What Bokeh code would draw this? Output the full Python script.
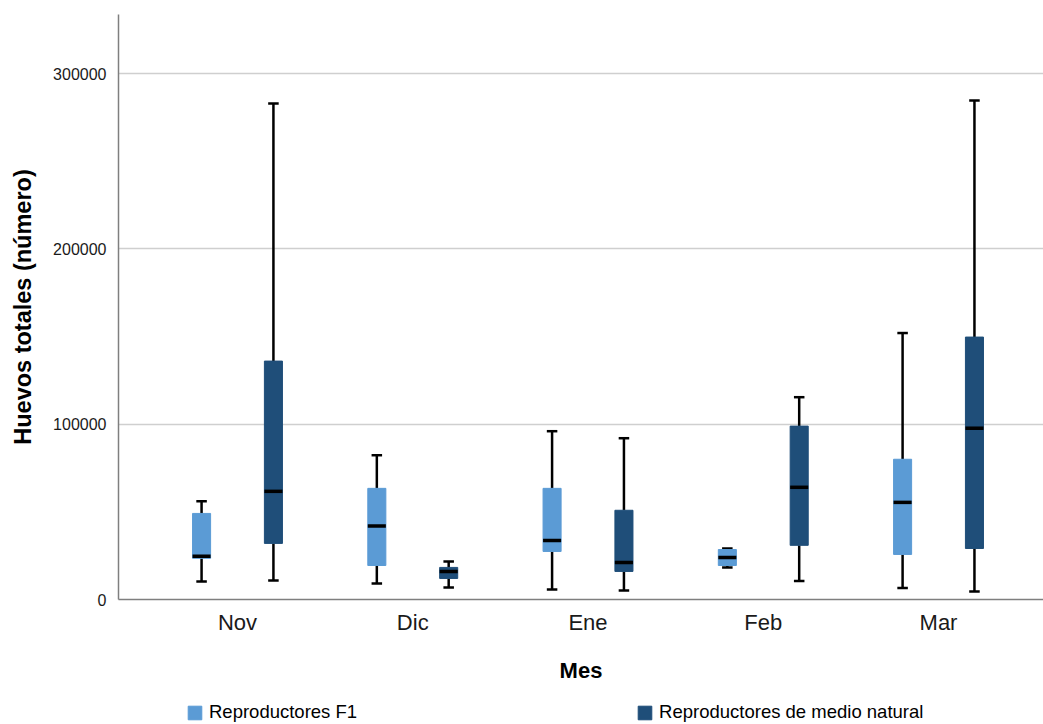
from bokeh.plotting import figure
from bokeh.layouts import column
from bokeh.models import ColumnDataSource, FixedTicker, NumeralTickFormatter, Legend, LegendItem, Range1d
from bokeh.transform import dodge
from bokeh.embed import file_html
from bokeh.resources import INLINE

months = ["Nov", "Dic", "Ene", "Feb", "Mar"]
series_names = ["Reproductores F1", "Reproductores de medio natural"]

f1_min = [10300, 9100, 5700, 18300, 6500]
f1_q1 = [23500, 19400, 27400, 19400, 25700]
f1_med = [24600, 41900, 33700, 24000, 55400]
f1_q3 = [49100, 63400, 63400, 28500, 80000]
f1_max = [56000, 82300, 96000, 29100, 152000]

nat_min = [10900, 6900, 5100, 10500, 4600]
nat_q1 = [32000, 12000, 16000, 30900, 29100]
nat_med = [61700, 16000, 21100, 64000, 97700]
nat_q3 = [136000, 18300, 50900, 98900, 149700]
nat_max = [282900, 21700, 92000, 115400, 284600]

y_ticks = [0, 100000, 200000, 300000]

colors = ["#5B9BD5", "#1F4E79"]
FONT = "Liberation Sans"

p = figure(width=1043, height=690, output_backend="svg", toolbar_location=None,
           x_range=Range1d(-0.679, 4.599), y_range=Range1d(0, 333700),
           min_border_left=118, min_border_top=14, min_border_right=0, min_border_bottom=91)
p.outline_line_color = None
p.background_fill_color = "white"
p.xgrid.grid_line_color = None
p.ygrid.grid_line_color = "#cfcfcf"
p.ygrid.grid_line_width = 1.5

xs = list(range(len(months)))
box_w = 0.103
cap_hw = 0.03
offsets = [-0.205, 0.205]
data = [(f1_min, f1_q1, f1_med, f1_q3, f1_max), (nat_min, nat_q1, nat_med, nat_q3, nat_max)]

for (mn, q1, md, q3, mx), off, col in zip(data, offsets, colors):
    src = ColumnDataSource(dict(x=xs, mn=mn, q1=q1, md=md, q3=q3, mx=mx))
    p.segment(x0=dodge("x", off), x1=dodge("x", off), y0="q3", y1="mx", source=src,
              line_color="black", line_width=2.5)
    p.segment(x0=dodge("x", off), x1=dodge("x", off), y0="mn", y1="q1", source=src,
              line_color="black", line_width=2.5)
    p.segment(x0=dodge("x", off - cap_hw), x1=dodge("x", off + cap_hw), y0="mx", y1="mx",
              source=src, line_color="black", line_width=2.5)
    p.segment(x0=dodge("x", off - cap_hw), x1=dodge("x", off + cap_hw), y0="mn", y1="mn",
              source=src, line_color="black", line_width=2.5)
    p.vbar(x=dodge("x", off), width=box_w, bottom="q1", top="q3", source=src,
           fill_color=col, line_color=col, line_width=1)
    p.segment(x0=dodge("x", off - box_w / 2), x1=dodge("x", off + box_w / 2), y0="md", y1="md",
              source=src, line_color="black", line_width=3.5)

p.xaxis.ticker = FixedTicker(ticks=xs)
p.xaxis.major_label_overrides = {i: m for i, m in enumerate(months)}
p.xaxis.axis_label = "Mes"
p.yaxis.axis_label = "Huevos totales (número)"
p.yaxis.ticker = FixedTicker(ticks=y_ticks)
p.yaxis.formatter = NumeralTickFormatter(format="0")

for ax in (p.xaxis, p.yaxis):
    ax.axis_line_color = "#7f7f7f"
    ax.axis_line_width = 1.5
    ax.major_tick_line_color = None
    ax.minor_tick_line_color = None
    ax.major_label_text_font = FONT
    ax.axis_label_text_font = FONT
    ax.axis_label_text_font_style = "bold"
    ax.axis_label_text_color = "black"
    ax.major_label_text_color = "#1a1a1a"

p.xaxis.major_label_text_font_size = "22px"
p.xaxis.axis_label_text_font_size = "22px"
p.xaxis.major_label_standoff = 4
p.xaxis.axis_label_standoff = 20
p.yaxis.major_label_text_font_size = "16px"
p.yaxis.axis_label_text_font_size = "23.5px"
p.yaxis.major_label_standoff = 6
p.yaxis.axis_label_standoff = 14

# legend strip below the chart
lg = figure(width=1043, height=34, output_backend="svg", toolbar_location=None,
            x_range=Range1d(0, 1043), y_range=Range1d(0, 34),
            x_axis_type=None, y_axis_type=None,
            min_border_left=0, min_border_right=0, min_border_top=0, min_border_bottom=0)
lg.outline_line_color = None
lg.xgrid.grid_line_color = None
lg.ygrid.grid_line_color = None
items = []
for col, name in zip(colors, series_names):
    r = lg.vbar(x=[-100], top=[0], bottom=[0], width=1, fill_color=col, line_color=col)
    items.append(LegendItem(label=name, renderers=[r]))
legend = Legend(items=items, orientation="horizontal", location=(68, 1),
                glyph_width=17, glyph_height=17, label_standoff=6, spacing=279,
                label_text_font=FONT, label_text_font_size="18.5px", label_text_color="black",
                padding=0, margin=0, border_line_color=None, background_fill_alpha=0)
lg.add_layout(legend, "center")

layout = column(p, lg, spacing=0)
open("out.html", "w").write(file_html(layout, INLINE))
